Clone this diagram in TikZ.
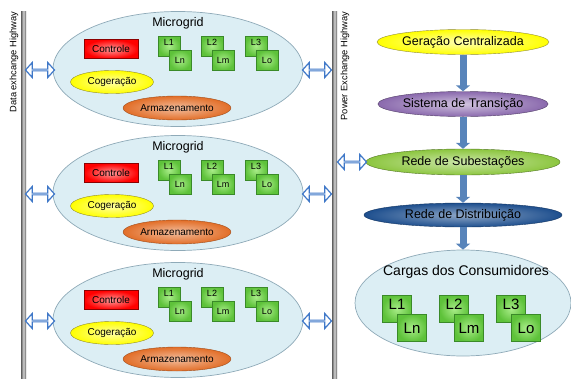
\documentclass[tikz,border=0pt]{standalone}
\usepackage{fontspec}
\setmainfont{Liberation Sans}
\usepackage{tikz}
\usetikzlibrary{arrows.meta,shapes.geometric,shapes.arrows}
\definecolor{mgfill}{HTML}{DCEEF4}
\definecolor{mgline}{HTML}{8FAAB8}
\definecolor{boxgreen}{HTML}{5EC23A}
\definecolor{boxlight}{HTML}{A8EC88}
\definecolor{boxline}{HTML}{3A8A28}
\definecolor{flowblue}{HTML}{5884BA}
\definecolor{dablue}{HTML}{3F78C8}
\definecolor{distblue}{HTML}{1E4F8E}
\definecolor{purp}{HTML}{8A69AD}
\definecolor{subgreen}{HTML}{8CC63F}
\definecolor{armor}{HTML}{E26E28}

\begin{document}
\begin{tikzpicture}[x=1pt, y=-1pt,
    fs/.style={font=\fontsize{#1}{#1}\selectfont},
    mg/.style={ellipse, draw=mgline, fill=mgfill, line width=0.7pt,
               minimum width=250pt, minimum height=115pt, inner sep=0pt},
    ctl/.style={rectangle, draw=red!55!black, inner color=red!40, outer color=red,
                minimum width=54pt, minimum height=19pt, inner sep=0pt, fs=10},
    lbox/.style={rectangle, draw=boxline, inner color=boxlight, outer color=boxgreen,
                 minimum width=22pt, minimum height=20pt, inner sep=1pt, fs=9},
    ltop/.style={lbox, text depth=7pt},
    bbox/.style={rectangle, draw=boxline, inner color=boxlight, outer color=boxgreen,
                 minimum width=29pt, minimum height=27pt, inner sep=1pt, fs=15},
    btop/.style={bbox, text depth=10pt},
    cog/.style={ellipse, draw=olive!70!gray, inner color=yellow!35, outer color=yellow,
                minimum width=83pt, minimum height=23pt, inner sep=0pt, fs=10},
    arm/.style={ellipse, draw=armor!70!black, inner color=armor!45, outer color=armor,
                minimum width=108pt, minimum height=24pt, inner sep=0pt, fs=10},
    xarrow/.style={double arrow, draw=dablue, fill=white, line width=1.2pt,
                   minimum height=29pt, minimum width=15pt, inner sep=0pt,
                   double arrow head extend=4.5pt, double arrow tip angle=96},
    stage/.style={ellipse, inner sep=0pt, minimum height=25pt, fs=12.5},
    flow/.style={draw=flowblue, line width=7pt, -{Triangle[width=14pt,length=6pt]}}]
  \useasboundingbox (0,0) rectangle (571,378);
  % the two highways
  \shade[left color=gray!75!black, right color=gray!75!black, middle color=gray!35]
    (21,11) rectangle (26,378);
  \shade[left color=gray!75!black, right color=gray!75!black, middle color=gray!35]
    (332,11) rectangle (337,378);
  \node[fs=9.3, rotate=90] (dxh) at (14,62) {Data exhcange Highway};
  \node[fs=9.3, rotate=90] (pxh) at (345,66) {Power Exchange Highway};
  % the three microgrids
  \foreach \y/\m in {69/a,193/b,320/c}{
    \node[mg] (mg\m) at (178,\y) {};
    \node[fs=12.5] (mgt\m) at (178,\y-46) {Microgrid};
    \node[ctl] (ct\m) at (111,\y-20) {Controle};
    \foreach \x/\a/\b in {169/L1/Ln,212/L2/Lm,256/L3/Lo}{
      \node[ltop] (\a\m) at (\x,\y-23) {\a};
      \node[lbox] (\b\m) at (\x+11,\y-9) {\b};}
    \node[cog] (cg\m) at (112,\y+13) {Cogeração};
    \node[arm] (ar\m) at (177,\y+39) {Armazenamento};
    \node[xarrow] (dl\m) at (40,\y+1) {};
    \node[xarrow] (dr\m) at (317,\y+1) {};}
  % the chain from central generation down to the consumers
  \node[stage, draw=olive!60!gray, inner color=yellow!30, outer color=yellow,
        minimum width=162pt] (gc) at (463,42) {Geração Centralizada};
  \node[stage, draw=purp!60!black, inner color=purp!40, outer color=purp,
        minimum width=168pt] (st) at (463,104) {Sistema de Transição};
  \node[stage, draw=subgreen!60!black, inner color=subgreen!45, outer color=subgreen,
        minimum width=194pt, minimum height=26pt] (rs) at (463,162) {Rede de Subestações};
  \node[stage, draw=distblue!70!black, inner color=distblue!50, outer color=distblue,
        minimum width=198pt, minimum height=24pt] (rd) at (463,215) {Rede de Distribuição};
  \node[ellipse, draw=mgline, fill=mgfill, line width=0.7pt, minimum width=216pt,
        minimum height=106pt] (cl) at (463,303) {};
  \node[fs=14] (clt) at (466,272) {Cargas dos Consumidores};
  \foreach \x/\a/\b in {397/L1/Ln,454/L2/Lm,511/L3/Lo}{
    \node[btop] (\a z) at (\x,309) {\a};
    \node[bbox] (\b z) at (\x+15,328) {\b};}
  \node[xarrow] (ds) at (352,162) {};
  \draw[flow] (gc) -- (st);
  \draw[flow] (st) -- (rs);
  \draw[flow] (rs) -- (rd);
  \draw[flow] (rd) -- (cl);
\end{tikzpicture}
\end{document}
